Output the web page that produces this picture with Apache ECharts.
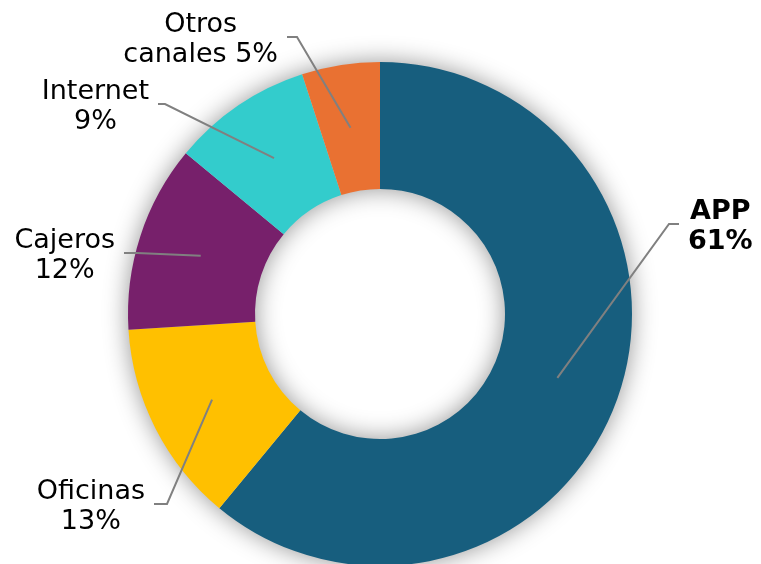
<!DOCTYPE html>
<html>
<head>
<meta charset="utf-8">
<script src="https://cdn.jsdelivr.net/npm/echarts@6/dist/echarts.min.js"></script>
<style>
  html, body { margin: 0; padding: 0; background: #ffffff; }
  #chart { width: 761px; height: 564px; }
</style>
</head>
<body>
<div id="chart"></div>
<script>
// Channel names and share (%) per channel
const channels = ['APP', 'Oficinas', 'Cajeros', 'Internet', 'Otros canales'];
const shares = [61, 13, 12, 9, 5];
const colors = ['#175E7E', '#FFC000', '#77206B', '#33CCCC', '#E97132'];
const boldLabels = [true, false, false, false, false];

// Donut geometry
const CX = 380, CY = 314, R_IN = 125, R_OUT = 252;

// Leader-line elbow (kink) for each label and the side its label sits on
const leaders = [
  { kx: 669, ky: 224, side: 1, tail: 10 },
  { kx: 167, ky: 504, side: -1, tail: 13 },
  { kx: 137, ky: 253, side: -1, tail: 13 },
  { kx: 165, ky: 104, side: -1, tail: 7 },
  { kx: 297, ky: 37, side: -1, tail: 10 }
];
const LABEL_GAP = 9;
const LABEL_DY = 3;

const total = shares.reduce((a, b) => a + b, 0);
const cumStart = [];
shares.reduce((acc, v, i) => { cumStart[i] = acc; return acc + v; }, 0);

// Point in the middle of the ring, on the bisector of slice i
function ringMidPoint(i) {
  const frac = (cumStart[i] + shares[i] / 2) / total;
  const ang = Math.PI / 2 - frac * 2 * Math.PI;
  const r = (R_IN + R_OUT) / 2;
  return [CX + r * Math.cos(ang), CY - r * Math.sin(ang)];
}

function labelText(name, value) {
  const sp = name.indexOf(' ');
  if (sp > 0) return name.slice(0, sp) + '\n' + name.slice(sp + 1) + ' ' + value + '%';
  return name + '\n' + value + '%';
}

const pieBase = {
  type: 'pie',
  center: [CX, CY],
  radius: [R_IN, R_OUT],
  startAngle: 90,
  clockwise: true
};

const chart = echarts.init(document.getElementById('chart'), null, { renderer: 'canvas' });

chart.setOption({
  animation: false,
  backgroundColor: '#ffffff',
  series: [
    Object.assign({}, pieBase, {
      // soft shadow ring behind the slices
      silent: true,
      z: 1,
      label: { show: false },
      labelLine: { show: false },
      itemStyle: {
        color: '#cccccc',
        shadowBlur: 24,
        shadowColor: 'rgba(0,0,0,0.42)'
      },
      data: [{ value: 1, name: 'ring' }]
    }),
    Object.assign({}, pieBase, {
      // coloured slices
      z: 2,
      label: { show: false },
      labelLine: { show: false },
      data: channels.map((name, i) => ({
        name: name,
        value: shares[i],
        itemStyle: { color: colors[i] }
      }))
    }),
    Object.assign({}, pieBase, {
      // labels and leader lines, drawn above the slices
      z: 3,
      silent: true,
      itemStyle: { color: 'rgba(0,0,0,0)' },
      data: channels.map((name, i) => ({
        name: name,
        value: shares[i],
        label: { fontWeight: boldLabels[i] ? 'bold' : 'normal' }
      })),
      label: {
        show: true,
        position: 'outside',
        formatter: p => labelText(p.name, p.value),
        fontFamily: 'DejaVu Sans',
        fontSize: 27,
        lineHeight: 30,
        color: '#000000',
        align: 'center',
        overflow: 'none'
      },
      labelLine: {
        show: true,
        lineStyle: { color: '#808080', width: 2 }
      },
      labelLayout: function (params) {
        const i = params.dataIndex;
        const L = leaders[i];
        const start = ringMidPoint(i);
        const endX = L.kx + L.side * L.tail;
        const w = params.labelRect.width;
        const lx = endX + L.side * (LABEL_GAP + w / 2);
        return {
          x: lx,
          y: L.ky + LABEL_DY,
          align: 'center',
          verticalAlign: 'middle',
          labelLinePoints: [start, [L.kx, L.ky], [endX, L.ky]]
        };
      }
    })
  ]
});
</script>
</body>
</html>
